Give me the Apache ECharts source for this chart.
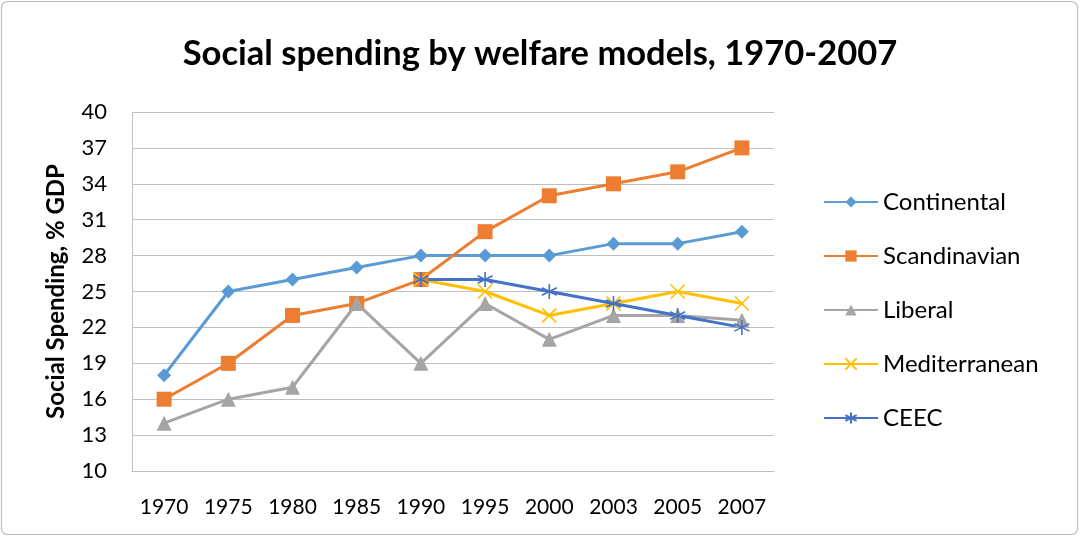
<!DOCTYPE html>
<html>
<head>
<meta charset="utf-8">
<script src="https://cdn.jsdelivr.net/npm/echarts@6/dist/echarts.min.js"></script>
<style>
  html, body { margin: 0; padding: 0; background: #fff; }
  #chart { width: 1080px; height: 537px; }
</style>
</head>
<body>
<div id="chart"></div>
<script>
// Years on the category axis
const years = ['1970', '1975', '1980', '1985', '1990', '1995', '2000', '2003', '2005', '2007'];

// Social spending, % of GDP, per welfare model
const continental   = [18, 25, 26, 27, 28, 28, 28, 29, 29, 30];
const scandinavian  = [16, 19, 23, 24, 26, 30, 33, 34, 35, 37];
const liberal       = [14, 16, 17, 24, 19, 24, 21, 23, 23, 22.6];
const mediterranean = [null, null, null, null, 26, 25, 23, 24, 25, 24];
const ceec          = [null, null, null, null, 26, 26, 25, 24, 23, 22];

const seriesNames = ['Continental', 'Scandinavian', 'Liberal', 'Mediterranean', 'CEEC'];

const FONT = 'Lato, "Open Sans", sans-serif';

// Marker shapes: thin-stroke cross and asterisk
const crossPath = 'path://M0,0L10,10M10,0L0,10';
const starPath = 'path://M5,0L5,10M0.7,2.5L9.3,7.5M0.7,7.5L9.3,2.5';

function lineSeries(name, data, color, symbol, size, stroked) {
  return {
    name: name,
    type: 'line',
    data: data,
    symbol: symbol,
    symbolSize: size,
    showAllSymbol: true,
    connectNulls: false,
    lineStyle: { color: color, width: 3 },
    itemStyle: stroked
      ? { color: 'rgba(0,0,0,0)', borderColor: color, borderWidth: 1.6 }
      : { color: color, borderWidth: 0 },
    emphasis: { disabled: true },
    animation: false
  };
}

const chart = echarts.init(document.getElementById('chart'));
chart.setOption({
  backgroundColor: '#fff',
  animation: false,
  graphic: [{
    type: 'rect',
    shape: { x: 1.5, y: 1.5, width: 1076, height: 533, r: 6 },
    style: { fill: 'none', stroke: '#BFBFBF', lineWidth: 1.2 },
    silent: true
  }],
  title: {
    text: 'Social spending by welfare models, 1970-2007',
    left: 'center',
    top: 31,
    textStyle: { fontFamily: FONT, fontSize: 34.5, fontWeight: 'bold', color: '#000' }
  },
  legend: {
    orient: 'vertical',
    left: 818,
    top: 185,
    itemWidth: 54,
    itemHeight: 14,
    itemGap: 30,
    textStyle: { fontFamily: FONT, fontSize: 24, lineHeight: 20, color: '#000' },
    data: seriesNames
  },
  grid: { left: 132, right: 306, top: 112, bottom: 66, containLabel: false },
  xAxis: {
    type: 'category',
    data: years,
    boundaryGap: true,
    axisLine: { show: true, lineStyle: { color: '#BFBFBF', width: 1 } },
    axisTick: { show: false },
    axisLabel: { fontFamily: FONT, fontSize: 21, color: '#000', margin: 26 }
  },
  yAxis: {
    type: 'value',
    min: 10,
    max: 40,
    interval: 3,
    name: 'Social Spending, % GDP',
    nameLocation: 'middle',
    nameGap: 64,
    nameTextStyle: { fontFamily: FONT, fontSize: 24, fontWeight: 'bold', color: '#000' },
    axisLine: { show: true, lineStyle: { color: '#BFBFBF', width: 1 } },
    axisTick: { show: false },
    axisLabel: { fontFamily: FONT, fontSize: 22, color: '#000', margin: 25 },
    splitLine: { show: true, lineStyle: { color: '#BFBFBF', width: 1 } }
  },
  series: [
    lineSeries('Continental', continental, '#5B9BD5', 'diamond', 14, false),
    lineSeries('Scandinavian', scandinavian, '#ED7D31', 'rect', 15, false),
    lineSeries('Liberal', liberal, '#A5A5A5', 'triangle', 15, false),
    lineSeries('Mediterranean', mediterranean, '#FFC000', crossPath, 14, true),
    lineSeries('CEEC', ceec, '#4472C4', starPath, 15, true)
  ]
});
</script>
</body>
</html>
